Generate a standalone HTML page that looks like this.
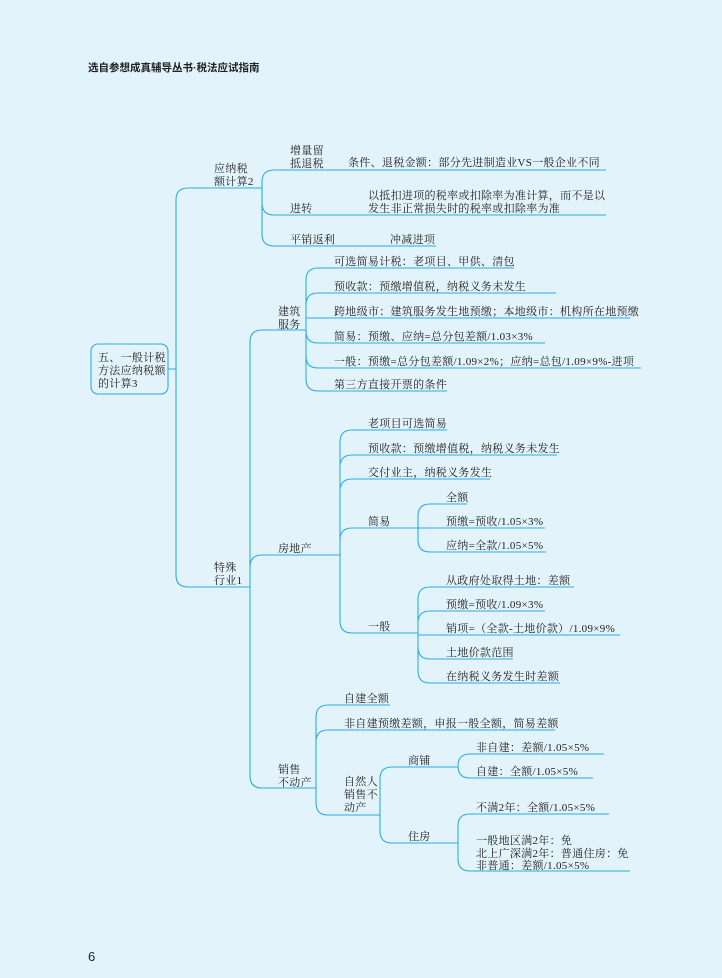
<!DOCTYPE html>
<html><head><meta charset="utf-8"><style>
html,body{margin:0;padding:0;background:#e3f3fb;}
svg{display:block}
text{font-family:"Liberation Serif","Noto Serif CJK SC",serif;font-size:11px;letter-spacing:0.3px;fill:#222;}
.h{font-family:"Liberation Sans","Noto Sans CJK SC",sans-serif;font-size:10.5px;font-weight:bold;letter-spacing:0;}
path{fill:none;stroke:#2aaee3;stroke-width:1.1}
</style></head><body>
<svg width="722" height="978" viewBox="0 0 722 978">
<rect width="722" height="978" fill="#e3f3fb"/>
<text class="h" x="88" y="71">选自参想成真辅导丛书·税法应试指南</text>
<text class="h" x="88" y="961" style="font-size:13px;font-weight:normal">6</text>

<rect x="91" y="344" width="77" height="50" rx="7" fill="none" stroke="#2aaee3" stroke-width="1.1"/>
<text x="98" y="361">五、一般计税</text>
<text x="98" y="374">方法应纳税额</text>
<text x="98" y="387">的计算3</text>

<path d="M168 369H176 M176 369V200Q176 188 188 188H262 M176 369V575Q176 587 188 587H250"/>
<path d="M262 188V182Q262 170 274 170H606 M262 188V203Q262 215 274 215H606 M262 188V234Q262 246 274 246H436"/>
<path d="M250 587V342Q250 330 262 330H306 M250 587V567Q250 555 262 555H340 M250 587V776Q250 788 262 788H316"/>
<path d="M306 330V280Q306 268 318 268H514 M306 330V305Q306 293 318 293H556 M306 330V318Q306 318 318 318H630 M306 330V331Q306 343 318 343H545 M306 330V356Q306 368 318 368H641 M306 330V379Q306 391 318 391H447"/>
<path d="M340 555V442Q340 430 352 430H447 M340 555V467Q340 455 352 455H557 M340 555V491Q340 479 352 479H490 M340 555V540Q340 528 352 528H418 M340 555V621Q340 633 352 633H418"/>
<path d="M418 528V516Q418 504 430 504H467 M418 528H545 M418 528V540Q418 552 430 552H546"/>
<path d="M418 633V599Q418 587 430 587H574 M418 633V623Q418 611 430 611H545 M418 633V635Q418 635 430 635H620 M418 633V647Q418 659 430 659H513 M418 633V671Q418 683 430 683H560"/>
<path d="M316 788V717Q316 705 328 705H390 M316 788V742Q316 730 328 730H555 M316 788V803Q316 815 328 815H380"/>
<path d="M380 815V779Q380 767 392 767H458 M380 815V831Q380 843 392 843H458"/>
<path d="M458 767V766Q458 754 470 754H604 M458 767V766Q458 778 470 778H593"/>
<path d="M458 843V826Q458 814 470 814H609 M458 843V859Q458 871 470 871H630"/>

<text x="214" y="172">应纳税</text><text x="214" y="185">额计算2</text>
<text x="290" y="154">增量留</text><text x="290" y="167">抵退税</text>
<text x="348" y="166">条件、退税金额：部分先进制造业VS一般企业不同</text>
<text x="290" y="212">进转</text>
<text x="368" y="199">以抵扣进项的税率或扣除率为准计算，而不是以</text>
<text x="368" y="212">发生非正常损失时的税率或扣除率为准</text>
<text x="290" y="243">平销返利</text><text x="390" y="243">冲减进项</text>

<text x="214" y="571">特殊</text><text x="214" y="584">行业1</text>
<text x="278" y="315">建筑</text><text x="278" y="328">服务</text>
<text x="334" y="265">可选简易计税：老项目、甲供、清包</text>
<text x="334" y="290">预收款：预缴增值税，纳税义务未发生</text>
<text x="334" y="315">跨地级市：建筑服务发生地预缴；本地级市：机构所在地预缴</text>
<text x="334" y="340">简易：预缴、应纳=总分包差额/1.03×3%</text>
<text x="334" y="365">一般：预缴=总分包差额/1.09×2%；应纳=总包/1.09×9%-进项</text>
<text x="334" y="388">第三方直接开票的条件</text>

<text x="278" y="552">房地产</text>
<text x="368" y="427">老项目可选简易</text>
<text x="368" y="452">预收款：预缴增值税，纳税义务未发生</text>
<text x="368" y="476">交付业主，纳税义务发生</text>
<text x="368" y="525">简易</text>
<text x="368" y="630">一般</text>
<text x="446" y="501">全额</text>
<text x="446" y="525">预缴=预收/1.05×3%</text>
<text x="446" y="549">应纳=全款/1.05×5%</text>
<text x="446" y="584">从政府处取得土地：差额</text>
<text x="446" y="608">预缴=预收/1.09×3%</text>
<text x="446" y="632">销项=（全款-土地价款）/1.09×9%</text>
<text x="446" y="656">土地价款范围</text>
<text x="446" y="680">在纳税义务发生时差额</text>

<text x="278" y="773">销售</text><text x="278" y="786">不动产</text>
<text x="344" y="702">自建全额</text>
<text x="344" y="727">非自建预缴差额，申报一般全额，简易差额</text>
<text x="344" y="785">自然人</text><text x="344" y="798">销售不</text><text x="344" y="811">动产</text>
<text x="408" y="764">商铺</text>
<text x="408" y="840">住房</text>
<text x="476" y="751">非自建：差额/1.05×5%</text>
<text x="476" y="775">自建：全额/1.05×5%</text>
<text x="476" y="811">不满2年：全额/1.05×5%</text>
<text x="476" y="844">一般地区满2年：免</text>
<text x="476" y="857">北上广深满2年：普通住房：免</text>
<text x="476" y="869">非普通：差额/1.05×5%</text>
</svg>
</body></html>
